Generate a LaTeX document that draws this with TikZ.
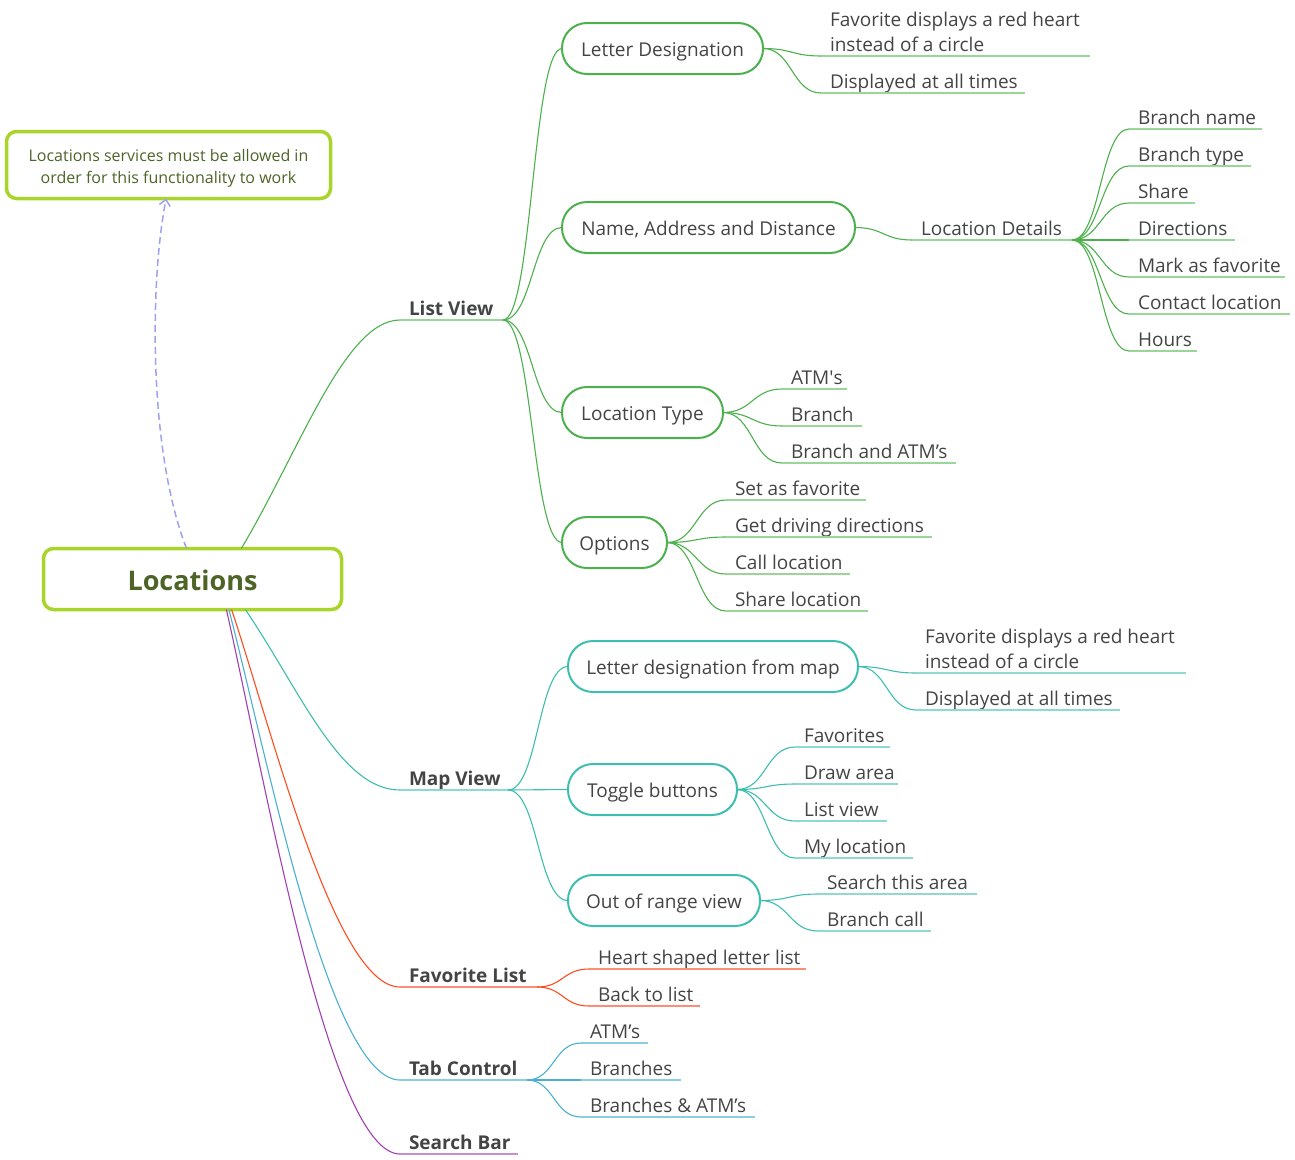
\documentclass[tikz,border=0pt]{standalone}
\usepackage{fontspec}
\setmainfont{Open Sans}
\newfontfamily\plainfont{Open Sans}
\usetikzlibrary{calc,arrows.meta}
\definecolor{txt}{HTML}{444444}
\definecolor{olive}{HTML}{4E6427}
\definecolor{lime}{HTML}{A9D52B}
\definecolor{gr}{HTML}{4CB04C}
\definecolor{grl}{HTML}{9AD69A}
\definecolor{tl}{HTML}{3DBEAE}
\definecolor{tll}{HTML}{8EDAD0}
\definecolor{rd}{HTML}{FF4D1F}
\definecolor{rdl}{HTML}{FF8D75}
\definecolor{bl}{HTML}{4AAFD0}
\definecolor{bll}{HTML}{8CCDE2}
\definecolor{pu}{HTML}{A040B0}
\definecolor{pul}{HTML}{C890D0}
\definecolor{dsh}{HTML}{A0A0F0}
\newcommand\lf[7]{%
  \node[leaf] (#2) at (#3,#4) {#7};
  \coordinate (#2-e) at (#5,#4);
  \draw[con=#6] (#1) to[mm] (#2.south west);
  \draw[ul=#6l] (#2.south west) -- (#2-e);
}
\begin{document}
\begin{tikzpicture}[x=1pt,y=-1pt,
  every node/.style={font=\fontsize{19}{25}\selectfont, text=txt},
  box/.style={draw=#1, line width=2pt, rounded corners=25pt, minimum height=51pt, inner sep=0pt, outer sep=0pt, text height=15pt, text depth=0pt},
  leaf/.style={anchor=south west, inner xsep=9pt, inner ysep=4.5pt, text depth=0pt, outer sep=0pt, align=left},
  br/.style={leaf, font=\fontsize{19}{25}\selectfont\bfseries},
  con/.style={draw=#1, line width=1.1pt},
  ul/.style={draw=#1, line width=2pt},
  mm/.style={to path={let \p1=(\tikztostart), \p2=(\tikztotarget), \p3=($(\p1)!0.5!(\p2)$) in .. controls (\x3,\y1) and (\x3,\y2) .. (\tikztotarget) \tikztonodes}}
]
\useasboundingbox (0,0) rectangle (1295,1159);

% main nodes
\node[draw=lime, line width=3.5pt, rounded corners=10pt, minimum width=298pt, minimum height=61pt, outer sep=0pt,
  text=olive, text height=23.5pt, text depth=0pt, font=\fontsize{27}{30}\selectfont\bfseries] (loc) at (192.5,579) {Locations};
\node[draw=lime, line width=3.5pt, rounded corners=10pt, minimum width=324pt, minimum height=67pt, outer sep=0pt,
  text=olive, font=\fontsize{16}{22}\selectfont] (co) at (168.5,165)
  {\raisebox{-3pt}[\height][\depth]{\parbox{310pt}{\centering Locations services must be allowed in\\order for this functionality to work}}};
\draw[dsh, line width=1.5pt, dash pattern=on 7pt off 4pt, -{Straight Barb[length=6pt,width=11pt]}]
  (loc.101.5) .. controls (148,450) and (150,280) .. (co.-94);

% level-one branches
\node[br] (lv) at (400,320) {List View};
\coordinate (lv-e) at (503,320);
\draw[con=gr] (loc.32.4) .. controls (300,450) and (345,320) .. (lv.south west);
\draw[ul=grl] (lv.south west) -- (lv-e);

\node[br] (mv) at (400,790) {Map View};
\coordinate (mv-e) at (508,790);
\draw[con=tl] (loc.-30.7) .. controls (300,690) and (340,790) .. (mv.south west);
\draw[ul=tll] (mv.south west) -- (mv-e);

\node[br] (fl) at (400,987) {Favorite List};
\coordinate (fl-e) at (537,987);
\draw[con=rd] (loc.-38.5) .. controls (272,730) and (335,987) .. (fl.south west);
\draw[ul=rdl] (fl.south west) -- (fl-e);

\node[br] (tc) at (400,1080) {Tab Control};
\coordinate (tc-e) at (527,1080);
\draw[con=bl] (loc.-40.6) .. controls (268,760) and (330,1080) .. (tc.south west);
\draw[ul=bll] (tc.south west) -- (tc-e);

\node[br] (sb) at (400,1154) {Search Bar};
\coordinate (sb-e) at (518,1154);
\draw[con=pu] (loc.-42.9) .. controls (265,780) and (330,1154) .. (sb.south west);
\draw[ul=pul] (sb.south west) -- (sb-e);

% List View boxes
\node[box=gr, minimum width=201pt] (LD) at (662.5,48.5) {Letter Designation};
\node[box=gr, minimum width=293pt] (NA) at (708.5,227.5) {Name, Address and Distance};
\node[box=gr, minimum width=161pt] (LT) at (642.5,412.5) {Location Type};
\node[box=gr, minimum width=105pt] (OP) at (614.5,542.5) {Options};
\foreach \b in {LD,NA,LT,OP} \draw[con=gr] (lv-e) to[mm] (\b.west);

% Map View boxes
\node[box=tl, minimum width=290pt] (LDM) at (713,666.5) {Letter designation from map};
\node[box=tl, minimum width=169pt] (TB) at (652.5,789.5) {Toggle buttons};
\node[box=tl, minimum width=192pt] (OR) at (664,900.5) {Out of range view};
\foreach \b in {LDM,TB,OR} \draw[con=tl] (mv-e) to[mm] (\b.west);

% Letter Designation leaves
\lf{LD.east}{ld1}{821}{56}{1090}{gr}{Favorite displays a red heart\\instead of a circle}
\lf{LD.east}{ld2}{821}{93}{1025}{gr}{Displayed at all times}

% Location details
\lf{NA.east}{ldt}{912}{240}{1072}{gr}{Location Details}
\lf{ldt-e}{d1}{1129}{129}{1262}{gr}{Branch name}
\lf{ldt-e}{d2}{1129}{166}{1251}{gr}{Branch type}
\lf{ldt-e}{d3}{1129}{203}{1195}{gr}{Share}
\lf{ldt-e}{d4}{1129}{240}{1235}{gr}{Directions}
\lf{ldt-e}{d5}{1129}{277}{1285}{gr}{Mark as favorite}
\lf{ldt-e}{d6}{1129}{314}{1290}{gr}{Contact location}
\lf{ldt-e}{d7}{1129}{351}{1197}{gr}{Hours}

% Location type
\lf{LT.east}{t1}{782}{389}{847}{gr}{ATM{\plainfont'}s}
\lf{LT.east}{t2}{782}{426}{862}{gr}{Branch}
\lf{LT.east}{t3}{782}{463}{956}{gr}{Branch and ATM’s}

% Options
\lf{OP.east}{o1}{726}{500}{866}{gr}{Set as favorite}
\lf{OP.east}{o2}{726}{537}{932}{gr}{Get driving directions}
\lf{OP.east}{o3}{726}{574}{850}{gr}{Call location}
\lf{OP.east}{o4}{726}{611}{868}{gr}{Share location}

% Letter designation from map
\lf{LDM.east}{m1}{916}{673}{1186}{tl}{Favorite displays a red heart\\instead of a circle}
\lf{LDM.east}{m2}{916}{710}{1120}{tl}{Displayed at all times}

% Toggle buttons
\lf{TB.east}{b1}{795}{747}{890}{tl}{Favorites}
\lf{TB.east}{b2}{795}{784}{898}{tl}{Draw area}
\lf{TB.east}{b3}{795}{821}{887}{tl}{List view}
\lf{TB.east}{b4}{795}{858}{913}{tl}{My location}

% Out of range
\lf{OR.east}{r1}{818}{894}{977}{tl}{Search this area}
\lf{OR.east}{r2}{818}{931}{931}{tl}{Branch call}

% Favorite list
\lf{fl-e}{f1}{589}{969}{806}{rd}{Heart shaped letter list}
\lf{fl-e}{f2}{589}{1006}{700}{rd}{Back to list}

% Tab control
\lf{tc-e}{c1}{581}{1043}{648}{bl}{ATM’s}
\lf{tc-e}{c2}{581}{1080}{681}{bl}{Branches}
\lf{tc-e}{c3}{581}{1117}{755}{bl}{Branches \& ATM’s}
\end{tikzpicture}
\end{document}
